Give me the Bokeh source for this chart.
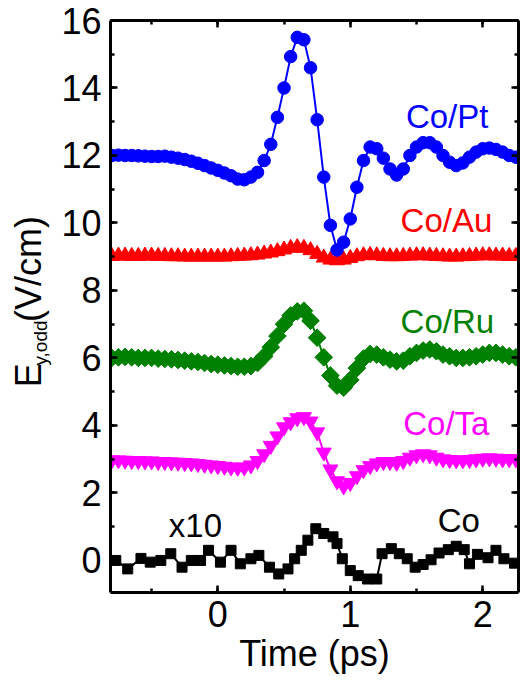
import math
from bokeh.plotting import figure
from bokeh.layouts import row
from bokeh.core.properties import value
from bokeh.models import Label, LinearAxis, SingleIntervalTicker, Range1d, CustomJSTickFormatter
from bokeh.embed import file_html
from bokeh.resources import INLINE

FONT = "Liberation Sans"

# ---- data ----
t_main = [-0.80, -0.75, -0.70, -0.65, -0.60, -0.55, -0.50, -0.45, -0.40, -0.35,
          -0.30, -0.25, -0.20, -0.15, -0.10, -0.05, 0.00, 0.05, 0.10, 0.15,
          0.20, 0.25, 0.30, 0.35, 0.40, 0.45, 0.50, 0.55, 0.60, 0.65,
          0.70, 0.75, 0.80, 0.85, 0.90, 0.95, 1.00, 1.05, 1.10, 1.15,
          1.20, 1.25, 1.30, 1.35, 1.40, 1.45, 1.50, 1.55, 1.60, 1.65,
          1.70, 1.75, 1.80, 1.85, 1.90, 1.95, 2.00, 2.05, 2.10, 2.15,
          2.20, 2.25]

co_pt = [12.00, 12.01, 12.00, 12.00, 11.99, 11.98, 11.97, 11.97, 11.98, 11.95,
         11.92, 11.88, 11.83, 11.77, 11.70, 11.63, 11.56, 11.48, 11.40, 11.30,
         11.28, 11.36, 11.50, 11.85, 12.33, 13.13, 14.00, 14.93, 15.50, 15.43,
         14.60, 13.06, 11.36, 9.93, 9.20, 9.43, 10.12, 11.06, 11.85, 12.25,
         12.20, 11.92, 11.60, 11.42, 11.60, 12.00, 12.25, 12.38, 12.38, 12.25,
         12.00, 11.80, 11.70, 11.78, 11.95, 12.10, 12.20, 12.22, 12.18, 12.10,
         12.00, 11.95]

co_au = [9.02, 9.03, 9.03, 9.02, 9.02, 9.03, 9.03, 9.02, 9.02, 9.01,
         9.01, 9.00, 9.00, 9.00, 9.00, 9.00, 9.00, 9.00, 9.01, 9.02,
         9.03, 9.04, 9.06, 9.09, 9.12, 9.16, 9.21, 9.26, 9.28, 9.26,
         9.19, 9.08, 8.97, 8.91, 8.89, 8.91, 8.96, 9.01, 9.04, 9.05,
         9.04, 9.02, 9.01, 9.01, 9.02, 9.03, 9.04, 9.04, 9.03, 9.02,
         9.01, 9.00, 9.00, 9.01, 9.02, 9.03, 9.04, 9.04, 9.03, 9.03,
         9.02, 9.02]

co_ru = [6.00, 6.02, 6.03, 6.02, 6.00, 6.00, 6.00, 5.98, 5.97, 5.96,
         5.94, 5.92, 5.90, 5.88, 5.85, 5.82, 5.80, 5.78, 5.76, 5.74,
         5.74, 5.76, 5.85, 6.05, 6.32, 6.65, 7.00, 7.26, 7.38, 7.40,
         7.10, 6.60, 6.02, 5.48, 5.18, 5.12, 5.35, 5.70, 5.98, 6.12,
         6.10, 6.02, 5.95, 5.90, 5.92, 6.05, 6.15, 6.22, 6.25, 6.20,
         6.10, 6.05, 6.00, 6.00, 6.02, 6.05, 6.10, 6.15, 6.15, 6.10,
         6.05, 6.02]

co_ta = [2.97, 2.97, 2.96, 2.95, 2.95, 2.94, 2.94, 2.92, 2.92, 2.91,
         2.90, 2.89, 2.88, 2.86, 2.84, 2.82, 2.80, 2.78, 2.76, 2.75,
         2.76, 2.82, 2.95, 3.15, 3.40, 3.68, 3.95, 4.10, 4.22, 4.25,
         4.12, 3.80, 3.20, 2.70, 2.35, 2.20, 2.30, 2.50, 2.68, 2.80,
         2.88, 2.92, 2.92, 2.90, 2.95, 3.05, 3.12, 3.15, 3.12, 3.05,
         3.00, 2.98, 2.97, 2.97, 2.98, 3.00, 3.02, 3.03, 3.02, 3.00,
         3.00, 3.00]

t_co = [-0.77, -0.68, -0.58, -0.51, -0.43, -0.355, -0.27, -0.20, -0.13, -0.07,
        0.02, 0.10, 0.17, 0.25, 0.31, 0.39, 0.46, 0.53, 0.58, 0.63,
        0.68, 0.74, 0.80, 0.87, 0.90, 0.94, 1.00, 1.06, 1.13, 1.20,
        1.24, 1.31, 1.37, 1.43, 1.49, 1.55, 1.61, 1.67, 1.74, 1.80,
        1.86, 1.90, 1.96, 2.04, 2.10, 2.16, 2.24]
co_x10 = [0.0, -0.25, 0.06, -0.05, 0.0, 0.2, -0.2, 0.0, 0.0, 0.3,
          -0.05, 0.3, -0.1, 0.05, 0.15, -0.2, -0.4, -0.25, 0.05, 0.3,
          0.6, 0.94, 0.8, 0.7, 0.5, 0.05, -0.3, -0.45, -0.55, -0.55,
          0.2, 0.35, 0.2, 0.05, -0.2, -0.12, 0.02, 0.22, 0.32, 0.42,
          0.32, -0.1, 0.18, 0.08, 0.3, 0.05, -0.08]

x_ticks_major = 1
y_ticks_major = 2

LEFT_W = 56

# ---- main figure ----
p = figure(width=521 - LEFT_W, height=683, x_range=Range1d(-0.81, 2.27), y_range=Range1d(-0.95, 16),
           output_backend="svg", toolbar_location=None,
           min_border_left=110 - LEFT_W, min_border_right=3, min_border_top=20, min_border_bottom=91)
p.xgrid.visible = False
p.ygrid.visible = False
p.outline_line_color = None
p.background_fill_color = "white"
p.border_fill_color = "white"

def style_axis(ax, labels=True):
    ax.axis_line_width = 3
    ax.axis_line_color = "black"
    ax.major_tick_line_width = 2.5
    ax.minor_tick_line_width = 2.5
    ax.major_tick_in = 7
    ax.major_tick_out = 0
    ax.minor_tick_in = 4
    ax.minor_tick_out = 0
    ax.major_label_text_font = FONT
    ax.major_label_text_color = "black"
    if labels:
        ax.major_label_text_font_size = "36px"
    else:
        ax.formatter = CustomJSTickFormatter(code="return ''")
        ax.major_label_text_font_size = "1px"
        ax.major_label_standoff = 0

p.xaxis.ticker = SingleIntervalTicker(interval=x_ticks_major, num_minor_ticks=2)
p.yaxis.ticker = SingleIntervalTicker(interval=y_ticks_major, num_minor_ticks=2)
style_axis(p.xaxis[0])
style_axis(p.yaxis[0])
p.xaxis.major_label_standoff = 8
p.yaxis.major_label_standoff = 9
p.xaxis.axis_label = "Time (ps)"
p.xaxis.axis_label_text_font = FONT
p.xaxis.axis_label_text_font_size = "36px"
p.xaxis.axis_label_text_font_style = "normal"
p.xaxis.axis_label_text_color = "black"
p.xaxis.axis_label_standoff = 3

top = LinearAxis(ticker=SingleIntervalTicker(interval=x_ticks_major, num_minor_ticks=2))
right = LinearAxis(ticker=SingleIntervalTicker(interval=y_ticks_major, num_minor_ticks=2))
style_axis(top, labels=False)
style_axis(right, labels=False)
p.add_layout(top, "above")
p.add_layout(right, "right")

# ---- series ----
p.line(t_co, co_x10, line_color="black", line_width=2)
p.scatter(t_co, co_x10, marker="square", size=10, color="black")

p.line(t_main, co_ta, line_color="#FF00FF", line_width=2)
p.scatter(t_main, co_ta, marker="inverted_triangle", size=15, color="#FF00FF")

p.line(t_main, co_ru, line_color="#008000", line_width=2)
p.scatter(t_main, co_ru, marker="square", angle=math.pi / 4, size=12.5, color="#008000")

p.line(t_main, co_au, line_color="#FF0000", line_width=2)
p.scatter(t_main, co_au, marker="triangle", size=15, color="#FF0000")

p.line(t_main, co_pt, line_color="#0000FF", line_width=2)
p.scatter(t_main, co_pt, marker="circle", size=12.5, color="#0000FF")

# ---- annotations ----
def lab(x, y, text, color):
    p.add_layout(Label(x=x, y=y, text=text, text_color=color, text_font=FONT,
                       text_font_size="33px", text_baseline="alphabetic", text_align="left"))

lab(1.42, 13.16, "Co/Pt", "#0000FF")
lab(1.38, 10.08, "Co/Au", "#FF0000")
lab(1.38, 7.09, "Co/Ru", "#008000")
lab(1.40, 4.06, "Co/Ta", "#FF00FF")
lab(1.66, 1.19, "Co", "black")
lab(-0.37, 1.04, "x10", "black")

# ---- y-axis title in a narrow side panel (pixel coordinates) ----
q = figure(width=LEFT_W, height=683, x_range=Range1d(0, LEFT_W), y_range=Range1d(0, 683),
           output_backend="svg", toolbar_location=None,
           x_axis_location=None, y_axis_location=None, min_border=0)
q.xgrid.visible = False
q.ygrid.visible = False
q.outline_line_color = None
q.border_fill_color = "white"
q.background_fill_color = "white"

ytitle_parts = ["E", "y,odd", "(V/cm)"]
ytitle_sizes = ["36px", "19px", "36px"]
ytitle_x = [28, 40, 28]
ytitle_y = [245, 271, 323]
q.text(x=ytitle_x, y=ytitle_y, text=ytitle_parts, angle=math.pi / 2,
       text_font=value(FONT), text_font_size=ytitle_sizes, text_color="black",
       text_baseline="alphabetic", text_align="left")

layout = row(q, p, spacing=0)
open("out.html", "w").write(file_html(layout, INLINE))
